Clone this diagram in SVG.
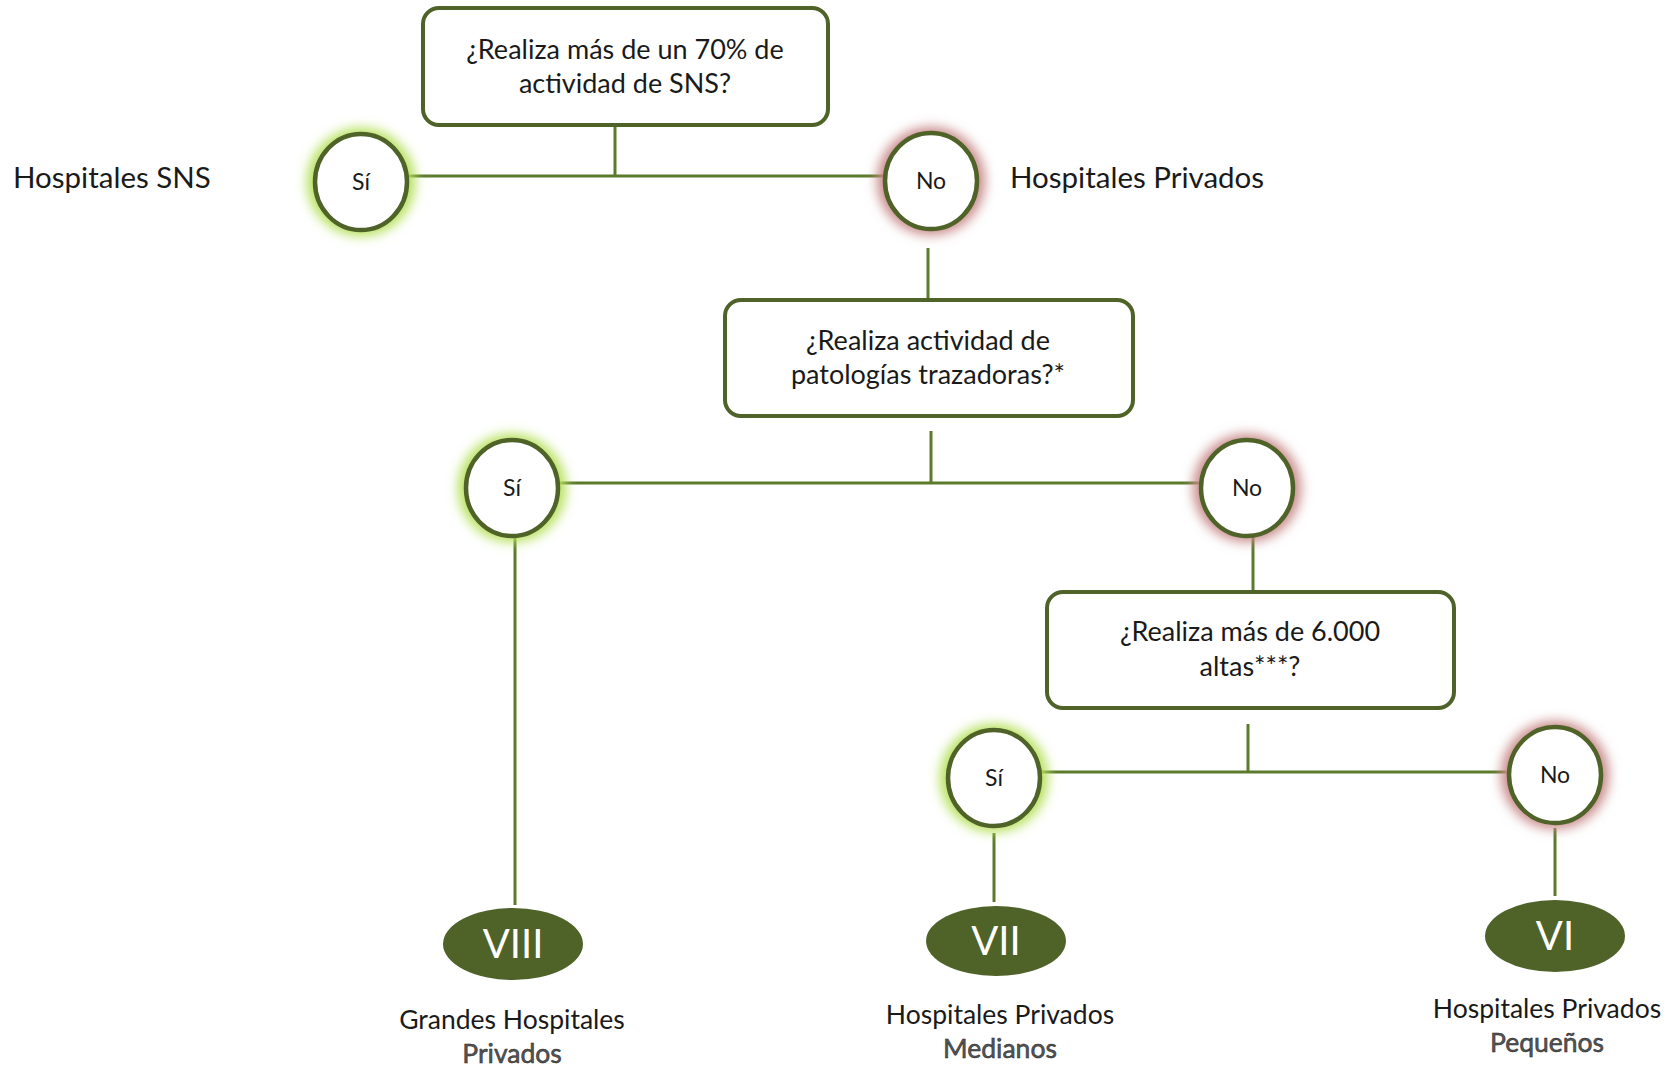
<svg xmlns="http://www.w3.org/2000/svg" width="1669" height="1067" viewBox="0 0 1669 1067">
<defs>
<filter id="blur" x="-50%" y="-50%" width="200%" height="200%"><feGaussianBlur stdDeviation="6"/></filter>
<style>
.box{fill:#fff;stroke:#4f6228;stroke-width:4}
.dec{fill:#fff;stroke:#4f6228;stroke-width:4.5}
.gG{fill:#b5e05a;filter:url(#blur)}
.gR{fill:#c98a8a;filter:url(#blur)}
.term{fill:#4f6228}
.ln{stroke:#5b7a2a;stroke-width:3;fill:none}
text{font-family:Lato,"Liberation Sans",sans-serif;fill:#1a1a1a;text-anchor:middle}
.q{font-size:27px}
.c{font-size:23px}
.side{font-size:29.5px;text-anchor:start}
.rom{font-size:40px;fill:#fff;font-weight:400}
.lab{font-size:26.5px}
.sub{font-size:26.5px;fill:#555;stroke:#222;stroke-width:0.5}
</style>
</defs>
<g id="connectors">
<line class="ln" x1="615" y1="125" x2="615" y2="175"/>
<line class="ln" x1="408" y1="176" x2="884" y2="176"/>
<line class="ln" x1="928" y1="248" x2="928" y2="300"/>
<line class="ln" x1="931" y1="431" x2="931" y2="483"/>
<line class="ln" x1="559" y1="483" x2="1200" y2="483"/>
<line class="ln" x1="515" y1="536" x2="515" y2="905"/>
<line class="ln" x1="1253" y1="536" x2="1253" y2="592"/>
<line class="ln" x1="1248" y1="724" x2="1248" y2="772"/>
<line class="ln" x1="1041" y1="772" x2="1508" y2="772"/>
<line class="ln" x1="994" y1="833" x2="994" y2="902"/>
<line class="ln" x1="1555" y1="828" x2="1555" y2="896"/>
</g>
<g id="q1">
<rect class="box" x="423" y="8" width="405" height="117" rx="16"/>
<text class="q" x="625" y="59">¿Realiza más de un 70% de</text>
<text class="q" x="625" y="93">actividad de SNS?</text>
</g>
<g id="si1">
<circle class="gG" cx="361" cy="182" r="54"/>
<ellipse class="dec" cx="361" cy="182" rx="46" ry="48"/>
<text class="c" x="361" y="190">Sí</text>
</g>
<g id="no1">
<circle class="gR" cx="931" cy="181" r="54"/>
<ellipse class="dec" cx="931" cy="181" rx="46" ry="48"/>
<text class="c" x="931" y="189">No</text>
</g>
<text class="side" x="13" y="188">Hospitales SNS</text>
<text class="side" x="1010" y="188">Hospitales Privados</text>
<g id="q2">
<rect class="box" x="725" y="300" width="408" height="116" rx="16"/>
<text class="q" x="928" y="350">¿Realiza actividad de</text>
<text class="q" x="928" y="384">patologías trazadoras?*</text>
</g>
<g id="si2">
<circle class="gG" cx="512" cy="488" r="54"/>
<ellipse class="dec" cx="512" cy="488" rx="46" ry="48"/>
<text class="c" x="512" y="496">Sí</text>
</g>
<g id="no2">
<circle class="gR" cx="1247" cy="488" r="54"/>
<ellipse class="dec" cx="1247" cy="488" rx="46" ry="48"/>
<text class="c" x="1247" y="496">No</text>
</g>
<g id="q3">
<rect class="box" x="1047" y="592" width="407" height="116" rx="16"/>
<text class="q" x="1250" y="641">¿Realiza más de 6.000</text>
<text class="q" x="1250" y="676">altas***?</text>
</g>
<g id="si3">
<circle class="gG" cx="994" cy="778" r="54"/>
<ellipse class="dec" cx="994" cy="778" rx="46" ry="48"/>
<text class="c" x="994" y="786">Sí</text>
</g>
<g id="no3">
<circle class="gR" cx="1555" cy="775" r="54"/>
<ellipse class="dec" cx="1555" cy="775" rx="46" ry="48"/>
<text class="c" x="1555" y="783">No</text>
</g>
<g id="viii">
<ellipse class="term" cx="513" cy="944" rx="70" ry="36"/>
<text class="rom" x="513" y="958">VIII</text>
<text class="lab" x="512" y="1029">Grandes Hospitales</text>
<text class="sub" x="512" y="1063">Privados</text>
</g>
<g id="vii">
<ellipse class="term" cx="996" cy="941" rx="70" ry="35"/>
<text class="rom" x="996" y="955">VII</text>
<text class="lab" x="1000" y="1024">Hospitales Privados</text>
<text class="sub" x="1000" y="1058">Medianos</text>
</g>
<g id="vi">
<ellipse class="term" cx="1555" cy="936" rx="70" ry="36"/>
<text class="rom" x="1555" y="950">VI</text>
<text class="lab" x="1547" y="1018">Hospitales Privados</text>
<text class="sub" x="1547" y="1052">Pequeños</text>
</g>
</svg>
